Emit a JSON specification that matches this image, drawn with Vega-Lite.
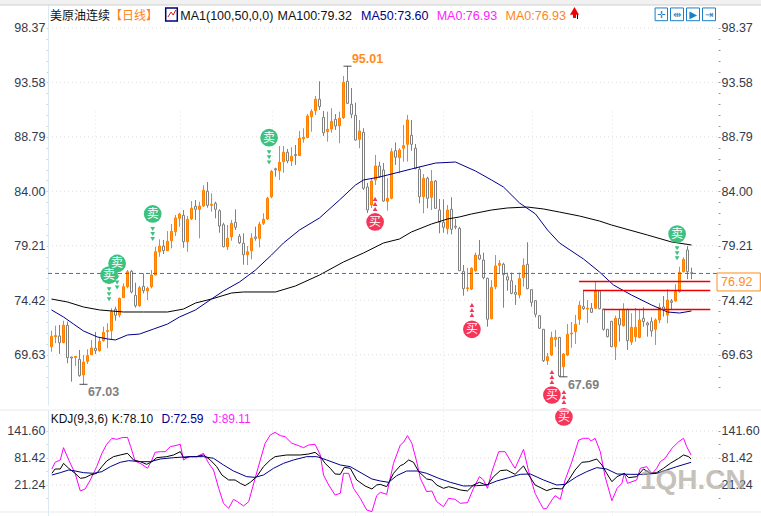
{
"$schema":"https://vega.github.io/schema/vega-lite/v6.json",
"description":"美原油连续 daily candles with MA and KDJ",
"width":761,"height":516,"padding":0,"autosize":{"type":"none"},"background":"white",
"config":{"view":{"stroke":null}},
"datasets":{
"candles":[
{"i":0,"o":70.34,"c":71.25,"h":71.75,"l":69.90},{"i":1,"o":71.21,"c":71.32,"h":72.19,"l":70.64},{"i":2,"o":71.28,"c":70.69,"h":72.25,"l":69.70},{"i":3,"o":70.69,"c":72.22,"h":72.62,"l":70.64},{"i":4,"o":72.22,"c":69.37,"h":72.54,"l":68.88},{"i":5,"o":69.43,"c":69.34,"h":69.46,"l":67.26},{"i":6,"o":69.39,"c":69.48,"h":69.52,"l":68.64},{"i":7,"o":69.23,"c":67.79,"h":70.05,"l":67.70},{"i":8,"o":67.85,"c":68.99,"h":69.61,"l":67.03},{"i":9,"o":69.05,"c":69.55,"h":70.11,"l":68.82},
{"i":10,"o":69.63,"c":70.22,"h":70.93,"l":69.61},{"i":11,"o":70.20,"c":69.99,"h":71.63,"l":69.70},{"i":12,"o":69.99,"c":70.81,"h":71.16,"l":69.90},{"i":13,"o":70.87,"c":71.60,"h":72.10,"l":70.78},{"i":14,"o":71.67,"c":71.76,"h":72.40,"l":70.20},{"i":15,"o":71.75,"c":73.42,"h":73.72,"l":70.93},{"i":16,"o":73.63,"c":73.10,"h":73.86,"l":72.62},{"i":17,"o":73.13,"c":74.59,"h":74.65,"l":72.92},{"i":18,"o":74.65,"c":75.62,"h":75.91,"l":74.65},{"i":19,"o":75.62,"c":76.93,"h":77.08,"l":75.47},
{"i":20,"o":76.97,"c":75.15,"h":77.08,"l":75.03},{"i":21,"o":74.86,"c":73.94,"h":75.97,"l":73.77},{"i":22,"o":73.94,"c":75.53,"h":75.68,"l":73.86},{"i":23,"o":75.65,"c":75.26,"h":76.79,"l":75.03},{"i":24,"o":75.24,"c":75.47,"h":75.62,"l":74.44},{"i":25,"o":75.62,"c":76.64,"h":77.08,"l":75.47},{"i":26,"o":76.64,"c":78.69,"h":79.13,"l":76.64},{"i":27,"o":78.69,"c":79.19,"h":79.78,"l":78.25},{"i":28,"o":79.19,"c":78.78,"h":79.72,"l":78.49},{"i":29,"o":78.78,"c":79.61,"h":80.51,"l":78.78},
{"i":30,"o":79.66,"c":80.49,"h":81.13,"l":78.99},{"i":31,"o":80.45,"c":81.66,"h":81.92,"l":80.07},{"i":32,"o":81.63,"c":82.01,"h":82.12,"l":80.89},{"i":33,"o":81.89,"c":79.57,"h":82.36,"l":79.04},{"i":34,"o":79.57,"c":81.54,"h":81.83,"l":78.69},{"i":35,"o":81.57,"c":82.51,"h":83.15,"l":81.48},{"i":36,"o":82.69,"c":82.42,"h":83.24,"l":81.48},{"i":37,"o":82.42,"c":82.71,"h":83.09,"l":79.87},{"i":38,"o":82.71,"c":84.09,"h":84.53,"l":82.65},{"i":39,"o":84.01,"c":82.77,"h":84.82,"l":82.56},
{"i":40,"o":82.77,"c":82.86,"h":83.83,"l":82.21},{"i":41,"o":82.95,"c":82.42,"h":83.09,"l":81.63},{"i":42,"o":82.30,"c":80.95,"h":82.42,"l":80.36},{"i":43,"o":81.07,"c":79.13,"h":81.24,"l":79.08},{"i":44,"o":79.13,"c":79.87,"h":81.04,"l":78.84},{"i":45,"o":80.01,"c":81.19,"h":81.48,"l":79.66},{"i":46,"o":81.28,"c":80.84,"h":82.42,"l":80.60},{"i":47,"o":80.05,"c":79.48,"h":80.25,"l":79.37},{"i":48,"o":79.43,"c":78.43,"h":80.31,"l":77.55},{"i":49,"o":78.43,"c":78.69,"h":79.19,"l":77.52},
{"i":50,"o":78.78,"c":79.87,"h":80.31,"l":78.02},{"i":51,"o":79.99,"c":79.87,"h":80.89,"l":79.66},{"i":52,"o":79.87,"c":81.10,"h":81.33,"l":79.08},{"i":53,"o":81.19,"c":81.54,"h":82.07,"l":81.04},{"i":54,"o":81.57,"c":83.39,"h":83.53,"l":81.48},{"i":55,"o":83.53,"c":85.76,"h":85.88,"l":83.39},{"i":56,"o":85.99,"c":85.90,"h":86.08,"l":85.29},{"i":57,"o":85.82,"c":86.56,"h":87.99,"l":85.00},{"i":58,"o":86.61,"c":87.44,"h":87.99,"l":85.64},{"i":59,"o":87.44,"c":86.67,"h":87.73,"l":86.47},
{"i":60,"o":86.67,"c":87.08,"h":87.88,"l":86.23},{"i":61,"o":87.24,"c":87.15,"h":88.08,"l":86.32},{"i":62,"o":87.14,"c":88.67,"h":89.31,"l":87.11},{"i":63,"o":88.63,"c":88.75,"h":89.55,"l":88.28},{"i":64,"o":88.72,"c":90.63,"h":90.80,"l":88.72},{"i":65,"o":90.57,"c":91.04,"h":91.22,"l":89.25},{"i":66,"o":91.09,"c":92.10,"h":92.39,"l":90.72},{"i":67,"o":92.10,"c":91.45,"h":93.68,"l":91.16},{"i":68,"o":90.51,"c":89.16,"h":91.07,"l":88.87},{"i":69,"o":89.25,"c":89.46,"h":91.01,"l":88.37},
{"i":70,"o":89.48,"c":90.16,"h":91.31,"l":89.16},{"i":71,"o":90.34,"c":89.75,"h":90.80,"l":89.40},{"i":72,"o":89.77,"c":90.43,"h":91.01,"l":88.23},{"i":73,"o":90.48,"c":93.59,"h":94.15,"l":90.36},{"i":74,"o":93.68,"c":91.74,"h":95.01,"l":91.68},{"i":75,"o":91.66,"c":90.78,"h":93.09,"l":90.43},{"i":76,"o":90.69,"c":88.52,"h":91.80,"l":88.46},{"i":77,"o":88.58,"c":89.31,"h":90.28,"l":87.79},{"i":78,"o":89.19,"c":84.27,"h":89.55,"l":84.12},{"i":79,"o":84.38,"c":82.36,"h":84.74,"l":82.10},
{"i":80,"o":82.80,"c":84.91,"h":85.17,"l":82.54},{"i":81,"o":85.00,"c":86.23,"h":87.20,"l":84.56},{"i":82,"o":86.23,"c":85.29,"h":86.61,"l":85.17},{"i":83,"o":85.88,"c":83.15,"h":86.49,"l":83.09},{"i":84,"o":83.13,"c":83.39,"h":85.17,"l":82.30},{"i":85,"o":83.39,"c":87.49,"h":87.79,"l":83.30},{"i":86,"o":87.58,"c":87.00,"h":88.31,"l":86.32},{"i":87,"o":86.96,"c":87.64,"h":87.79,"l":85.59},{"i":88,"o":87.79,"c":88.02,"h":89.84,"l":86.61},{"i":89,"o":88.14,"c":90.28,"h":90.72,"l":86.61},
{"i":90,"o":88.93,"c":88.14,"h":90.28,"l":87.58},{"i":91,"o":87.79,"c":86.03,"h":88.17,"l":85.94},{"i":92,"o":85.94,"c":83.53,"h":86.17,"l":82.95},{"i":93,"o":83.53,"c":85.15,"h":85.53,"l":82.07},{"i":94,"o":85.15,"c":83.39,"h":85.29,"l":82.51},{"i":95,"o":83.48,"c":84.88,"h":85.88,"l":82.36},{"i":96,"o":84.91,"c":82.51,"h":85.00,"l":82.45},{"i":97,"o":82.36,"c":81.28,"h":83.33,"l":80.31},{"i":98,"o":81.28,"c":80.84,"h":83.30,"l":80.36},{"i":99,"o":80.72,"c":82.36,"h":82.80,"l":80.22},
{"i":100,"o":82.42,"c":80.66,"h":83.48,"l":80.22},{"i":101,"o":80.94,"c":80.85,"h":81.57,"l":80.66},{"i":102,"o":80.75,"c":77.02,"h":80.89,"l":77.00},{"i":103,"o":76.97,"c":75.44,"h":77.52,"l":74.82},{"i":104,"o":75.44,"c":75.52,"h":77.26,"l":75.18},{"i":105,"o":75.41,"c":77.23,"h":77.32,"l":75.32},{"i":106,"o":77.02,"c":78.40,"h":78.61,"l":76.93},{"i":107,"o":78.40,"c":78.05,"h":79.72,"l":77.96},{"i":108,"o":77.96,"c":76.41,"h":78.61,"l":76.27},{"i":109,"o":76.35,"c":72.75,"h":76.41,"l":72.10},
{"i":110,"o":72.80,"c":75.56,"h":76.20,"l":72.75},{"i":111,"o":75.62,"c":77.44,"h":78.40,"l":75.39},{"i":112,"o":77.50,"c":77.67,"h":77.96,"l":76.79},{"i":113,"o":77.59,"c":76.67,"h":77.73,"l":73.77},{"i":114,"o":76.49,"c":76.20,"h":76.85,"l":75.26},{"i":115,"o":76.14,"c":75.03,"h":76.85,"l":74.95},{"i":116,"o":75.12,"c":74.95,"h":75.76,"l":74.01},{"i":117,"o":74.88,"c":76.32,"h":76.85,"l":74.59},{"i":118,"o":76.41,"c":77.50,"h":78.11,"l":75.62},{"i":119,"o":77.59,"c":75.44,"h":79.52,"l":75.39},
{"i":120,"o":75.35,"c":74.24,"h":75.41,"l":73.86},{"i":121,"o":74.38,"c":73.19,"h":74.44,"l":72.92},{"i":122,"o":73.06,"c":71.96,"h":73.13,"l":71.89},{"i":123,"o":71.87,"c":69.11,"h":71.89,"l":68.99},{"i":124,"o":69.11,"c":69.46,"h":69.78,"l":68.73},{"i":125,"o":69.61,"c":71.16,"h":71.66,"l":69.52},{"i":126,"o":70.99,"c":71.16,"h":71.81,"l":70.31},{"i":127,"o":71.16,"c":67.76,"h":71.19,"l":67.67},{"i":128,"o":68.58,"c":69.70,"h":69.78,"l":67.69},{"i":129,"o":69.61,"c":71.43,"h":72.33,"l":69.52},
{"i":130,"o":71.46,"c":71.54,"h":72.51,"l":70.25},{"i":131,"o":71.66,"c":72.31,"h":73.13,"l":70.58},{"i":132,"o":72.75,"c":73.98,"h":74.36,"l":72.25},{"i":133,"o":73.86,"c":73.68,"h":75.32,"l":73.57},{"i":134,"o":73.65,"c":73.74,"h":74.44,"l":72.42},{"i":135,"o":73.72,"c":73.36,"h":74.18,"l":73.30},{"i":136,"o":73.72,"c":75.24,"h":76.05,"l":73.65},{"i":137,"o":75.26,"c":73.68,"h":75.32,"l":73.63},{"i":138,"o":73.65,"c":71.87,"h":73.68,"l":71.75},{"i":139,"o":71.87,"c":71.22,"h":71.89,"l":71.16},
{"i":140,"o":72.57,"c":70.34,"h":72.60,"l":70.29},{"i":141,"o":70.34,"c":72.83,"h":73.07,"l":69.17},{"i":142,"o":72.83,"c":72.25,"h":73.57,"l":70.78},{"i":143,"o":72.19,"c":73.63,"h":74.16,"l":72.10},{"i":144,"o":73.63,"c":70.87,"h":73.68,"l":70.05},{"i":145,"o":70.75,"c":72.04,"h":73.28,"l":70.49},{"i":146,"o":71.22,"c":72.04,"h":73.74,"l":70.78},{"i":147,"o":71.16,"c":72.69,"h":73.63,"l":71.08},{"i":148,"o":72.83,"c":72.54,"h":73.80,"l":72.10},{"i":149,"o":72.42,"c":72.25,"h":72.54,"l":71.22},
{"i":150,"o":72.54,"c":71.72,"h":72.92,"l":71.22},{"i":151,"o":71.87,"c":72.69,"h":72.83,"l":70.49},{"i":152,"o":72.69,"c":73.80,"h":74.16,"l":72.40},{"i":153,"o":73.83,"c":73.57,"h":74.80,"l":72.98},{"i":154,"o":73.13,"c":74.44,"h":75.39,"l":72.40},{"i":155,"o":74.36,"c":74.24,"h":74.53,"l":73.57},{"i":156,"o":74.36,"c":75.18,"h":75.83,"l":74.30},{"i":157,"o":75.18,"c":76.88,"h":77.37,"l":75.09},{"i":158,"o":76.93,"c":78.02,"h":78.20,"l":76.88},{"i":159,"o":78.84,"c":76.93,"h":79.19,"l":76.27},
{"i":160,"o":76.85,"c":76.80,"h":77.29,"l":76.27}],
"ma100":[{"i":0,"p":74.53},{"i":4,"p":74.27},{"i":8,"p":73.83},{"i":12,"p":73.57},{"i":18,"p":73.39},{"i":23,"p":73.39},{"i":29,"p":73.39},{"i":33,"p":73.65},{"i":36,"p":74.18},{"i":40,"p":74.53},{"i":45,"p":75.06},{"i":48,"p":75.15},{"i":56,"p":75.15},{"i":61,"p":75.68},{"i":67,"p":76.64},{"i":73,"p":77.79},{"i":78,"p":78.58},{"i":83,"p":79.46},{"i":87,"p":79.81},{"i":90,"p":80.43},{"i":95,"p":81.13},{"i":99,"p":81.57},{"i":102,"p":81.75},{"i":105,"p":82.01},{"i":110,"p":82.36},{"i":114,"p":82.54},{"i":119,"p":82.62},{"i":123,"p":82.45},{"i":127,"p":82.18},{"i":132,"p":81.83},{"i":137,"p":81.39},{"i":140,"p":81.04},{"i":149,"p":80.16},{"i":155,"p":79.55},{"i":160,"p":79.28}],
"ma50":[{"i":0,"p":73.57},{"i":3,"p":72.95},{"i":5.5,"p":72.33},{"i":8,"p":71.72},{"i":11.5,"p":71.19},{"i":14,"p":71.02},{"i":16,"p":70.93},{"i":19,"p":71.37},{"i":22,"p":71.45},{"i":25.5,"p":71.89},{"i":29,"p":72.33},{"i":32,"p":72.95},{"i":36,"p":73.57},{"i":40,"p":74.53},{"i":43,"p":75.24},{"i":47,"p":76.03},{"i":51,"p":77.08},{"i":55,"p":78.40},{"i":58,"p":79.46},{"i":62,"p":80.60},{"i":67,"p":81.66},{"i":72,"p":83.24},{"i":76,"p":84.56},{"i":78,"p":85.00},{"i":82,"p":85.26},{"i":87,"p":85.70},{"i":90,"p":85.97},{"i":96,"p":86.49},{"i":101,"p":86.58},{"i":106,"p":85.79},{"i":110,"p":85.00},{"i":113,"p":84.38},{"i":117,"p":82.98},{"i":121,"p":82.01},{"i":124,"p":80.60},{"i":127,"p":79.46},{"i":133,"p":78.05},{"i":137,"p":76.91},{"i":140.5,"p":75.76},{"i":145,"p":74.88},{"i":150,"p":74.01},{"i":154,"p":73.39},{"i":157,"p":73.30},{"i":160,"p":73.48}],
"kdjK":[{"i":0.1,"v":47.2},{"i":0.9,"v":56.9},{"i":2.2,"v":56.9},{"i":3,"v":69.5},{"i":4.3,"v":58.4},{"i":5.9,"v":47.2},{"i":7.2,"v":36.1},{"i":8.4,"v":37.6},{"i":9.7,"v":43.5},{"i":11.3,"v":47.2},{"i":12.6,"v":62.1},{"i":13.8,"v":74.7},{"i":15.5,"v":84.4},{"i":17.2,"v":88.1},{"i":19,"v":91.8},{"i":20.5,"v":77.0},{"i":22.2,"v":73.2},{"i":23.8,"v":67.3},{"i":25.1,"v":73.2},{"i":26.3,"v":82.1},{"i":28.8,"v":84.4},{"i":30.5,"v":88.1},{"i":32.2,"v":95.5},{"i":33,"v":82.1},{"i":34.7,"v":84.4},{"i":36.3,"v":84.4},{"i":38,"v":88.1},{"i":39.7,"v":77.0},{"i":41.3,"v":62.1},{"i":42.6,"v":43.5},{"i":44.3,"v":32.4},{"i":45.9,"v":32.4},{"i":47.2,"v":24.9},{"i":48.4,"v":19.8},{"i":49.7,"v":27.2},{"i":51.3,"v":39.8},{"i":53,"v":62.1},{"i":54.7,"v":77.0},{"i":55.9,"v":84.4},{"i":58.8,"v":88.1},{"i":62.2,"v":88.1},{"i":64.3,"v":90.3},{"i":65.9,"v":94.0},{"i":67.2,"v":84.4},{"i":68.4,"v":69.5},{"i":69.7,"v":58.4},{"i":70.9,"v":45.7},{"i":72.2,"v":45.0},{"i":73.2,"v":60.6},{"i":74.7,"v":58.4},{"i":76.3,"v":32.4},{"i":78.4,"v":19.0},{"i":80.1,"v":12.3},{"i":81.3,"v":21.2},{"i":82.2,"v":22.7},{"i":83.8,"v":17.5},{"i":85.5,"v":47.2},{"i":87.2,"v":64.3},{"i":88,"v":67.3},{"i":89.3,"v":77.0},{"i":90.5,"v":71.8},{"i":91.8,"v":51.0},{"i":93.8,"v":34.6},{"i":95.1,"v":32.4},{"i":96.3,"v":21.2},{"i":98,"v":13.8},{"i":99.3,"v":17.5},{"i":100.9,"v":13.8},{"i":102.2,"v":10.1},{"i":104,"v":7.9},{"i":105.5,"v":21.2},{"i":107,"v":27.2},{"i":108,"v":23.5},{"i":109,"v":21.2},{"i":110.5,"v":39.8},{"i":112.2,"v":53.2},{"i":113.8,"v":54.7},{"i":115.9,"v":45.0},{"i":118,"v":63.6},{"i":119.3,"v":43.5},{"i":120.9,"v":21.2},{"i":122.6,"v":13.8},{"i":123.8,"v":8.6},{"i":125.5,"v":13.8},{"i":127.6,"v":12.3},{"i":129.3,"v":32.4},{"i":130.9,"v":54.7},{"i":132.6,"v":71.8},{"i":134.3,"v":73.2},{"i":136.3,"v":79.2},{"i":137.6,"v":65.8},{"i":138.8,"v":47.2},{"i":140.1,"v":28.7},{"i":141.4,"v":39.8},{"i":143.2,"v":47.2},{"i":144.3,"v":37.6},{"i":146.3,"v":39.8},{"i":148,"v":56.9},{"i":149.7,"v":47.2},{"i":151.3,"v":48.7},{"i":153,"v":58.4},{"i":154.7,"v":69.5},{"i":156.8,"v":80.7},{"i":158,"v":88.1},{"i":159.3,"v":84.4},{"i":159.9,"v":79.2}],
"kdjD":[{"i":0.1,"v":43.5},{"i":2.2,"v":48.7},{"i":4.3,"v":54.7},{"i":5.9,"v":52.4},{"i":8,"v":48.7},{"i":10.5,"v":47.2},{"i":12.6,"v":51.0},{"i":14.7,"v":62.1},{"i":17.2,"v":71.8},{"i":19.3,"v":75.5},{"i":22.2,"v":73.2},{"i":24.7,"v":73.2},{"i":27.2,"v":79.2},{"i":30.5,"v":82.1},{"i":34.7,"v":84.4},{"i":38,"v":84.4},{"i":40.5,"v":80.7},{"i":43,"v":65.8},{"i":45.5,"v":52.4},{"i":48.8,"v":39.8},{"i":50.9,"v":38.3},{"i":53,"v":43.5},{"i":55.5,"v":58.4},{"i":58,"v":69.5},{"i":60.5,"v":77.0},{"i":63.8,"v":84.4},{"i":66.3,"v":84.4},{"i":68.8,"v":77.0},{"i":72.2,"v":65.8},{"i":74.7,"v":62.1},{"i":77.6,"v":47.2},{"i":80.1,"v":34.6},{"i":82.2,"v":30.1},{"i":84.3,"v":27.2},{"i":86.3,"v":42.0},{"i":88.8,"v":52.4},{"i":91.4,"v":52.4},{"i":93.8,"v":47.2},{"i":96.8,"v":36.1},{"i":99.7,"v":27.2},{"i":103,"v":19.0},{"i":106.3,"v":19.7},{"i":108.8,"v":21.2},{"i":111.3,"v":30.1},{"i":114.3,"v":37.6},{"i":117.2,"v":45.0},{"i":119.7,"v":45.7},{"i":123,"v":32.4},{"i":126.3,"v":21.2},{"i":128.4,"v":22.7},{"i":131.3,"v":39.8},{"i":133.8,"v":51.0},{"i":136.3,"v":59.9},{"i":138.8,"v":56.9},{"i":141.4,"v":45.7},{"i":144.7,"v":45.0},{"i":148,"v":45.0},{"i":151.3,"v":47.2},{"i":153.8,"v":54.7},{"i":156.3,"v":62.1},{"i":159.9,"v":71.8}],
"kdjJ":[{"i":0.1,"v":56.9},{"i":0.9,"v":71.8},{"i":2.2,"v":77.0},{"i":3,"v":104.4},{"i":4.3,"v":77.0},{"i":5.9,"v":47.2},{"i":7.2,"v":7.9},{"i":8.4,"v":12.3},{"i":9.7,"v":32.4},{"i":11.3,"v":62.1},{"i":12.6,"v":91.8},{"i":13.8,"v":111.9},{"i":15.1,"v":125.3},{"i":16.3,"v":123.0},{"i":17.6,"v":126.7},{"i":19,"v":127.5},{"i":19.8,"v":106.7},{"i":20.9,"v":74.7},{"i":22.6,"v":67.3},{"i":24,"v":58.4},{"i":25.1,"v":77.0},{"i":25.9,"v":94.0},{"i":27.2,"v":95.5},{"i":28.4,"v":95.5},{"i":29.7,"v":106.7},{"i":30.9,"v":108.9},{"i":32.2,"v":111.9},{"i":33,"v":77.0},{"i":34.3,"v":84.4},{"i":36.3,"v":84.4},{"i":38,"v":91.8},{"i":39.3,"v":69.5},{"i":40.5,"v":54.7},{"i":41.8,"v":13.8},{"i":43,"v":-19.6},{"i":44.3,"v":-30.8},{"i":45.5,"v":-10.7},{"i":46.5,"v":-15.9},{"i":48,"v":-25.6},{"i":49.3,"v":-15.9},{"i":50.9,"v":36.1},{"i":52.2,"v":77.0},{"i":53.4,"v":114.1},{"i":54.7,"v":132.7},{"i":55.9,"v":138.6},{"i":57.2,"v":131.2},{"i":58.4,"v":129.0},{"i":60.1,"v":114.1},{"i":61.8,"v":108.9},{"i":63,"v":104.4},{"i":64.3,"v":110.4},{"i":65.9,"v":111.9},{"i":67.2,"v":88.1},{"i":68,"v":43.5},{"i":69.3,"v":21.2},{"i":70.9,"v":-1.1},{"i":72.2,"v":2.7},{"i":73,"v":47.2},{"i":74.3,"v":47.2},{"i":75.5,"v":13.8},{"i":77.2,"v":-8.5},{"i":78.8,"v":-34.5},{"i":80.1,"v":-38.2},{"i":81.3,"v":-2.5},{"i":82.2,"v":4.9},{"i":83.8,"v":0.4},{"i":85.5,"v":69.5},{"i":87.2,"v":110.4},{"i":88,"v":116.3},{"i":89,"v":131.2},{"i":90.1,"v":114.1},{"i":91.4,"v":69.5},{"i":92.2,"v":36.1},{"i":93.8,"v":6.4},{"i":95.1,"v":7.9},{"i":96.3,"v":-15.9},{"i":98,"v":-27.1},{"i":99.3,"v":-8.5},{"i":100.9,"v":-10.7},{"i":102.2,"v":-19.6},{"i":104,"v":-18.1},{"i":105.5,"v":13.8},{"i":107,"v":39.8},{"i":108,"v":32.4},{"i":109,"v":13.8},{"i":110.1,"v":51.0},{"i":111.8,"v":95.5},{"i":113.4,"v":95.5},{"i":115.1,"v":69.5},{"i":115.9,"v":58.4},{"i":118,"v":100.7},{"i":119.3,"v":51.0},{"i":120.9,"v":2.7},{"i":122.2,"v":-19.6},{"i":123,"v":-32.3},{"i":123.8,"v":-30.8},{"i":125.1,"v":-12.2},{"i":125.9,"v":-2.5},{"i":127.2,"v":-10.7},{"i":128.4,"v":32.4},{"i":130.1,"v":73.2},{"i":131.8,"v":121.5},{"i":133,"v":125.3},{"i":134.3,"v":125.3},{"i":134.9,"v":119.3},{"i":135.9,"v":125.3},{"i":137.2,"v":95.5},{"i":138.4,"v":39.8},{"i":140.1,"v":-13.7},{"i":141.4,"v":13.8},{"i":142.6,"v":24.9},{"i":143.2,"v":47.2},{"i":144,"v":24.9},{"i":146.3,"v":32.4},{"i":147.2,"v":58.4},{"i":148.8,"v":62.1},{"i":150.1,"v":45.7},{"i":151.3,"v":58.4},{"i":152.2,"v":73.2},{"i":153.4,"v":80.7},{"i":155.1,"v":103.0},{"i":156.8,"v":117.8},{"i":158,"v":125.3},{"i":158.8,"v":106.7},{"i":159.9,"v":88.1}],
"priceGrid":[{"p":98.37,"i":-0.875,"i2":166.625},{"p":93.58,"i":-0.875,"i2":166.625},{"p":88.79,"i":-0.875,"i2":166.625},{"p":84.00,"i":-0.875,"i2":166.625},{"p":79.21,"i":-0.875,"i2":166.625},{"p":74.42,"i":-0.875,"i2":166.625},{"p":69.63,"i":-0.875,"i2":166.625}],
"kdjGrid":[{"v":141.6,"i":-0.875,"i2":166.625},{"v":81.42,"i":-0.875,"i2":166.625},{"v":21.24,"i":-0.875,"i2":166.625}],
"dividers":[{"v":188.4,"i":-12.875,"i2":177.375},{"v":-38.95,"i":-12.875,"i2":177.375}],
"tabs":[{"i":-12.875,"i2":177.375,"p":100.83,"p2":100.39}],
"tabEdges":[{"i":-5.6},{"i":12.1},{"i":25.9},{"i":40.6},{"i":52.6},{"i":64.1},{"i":75.9},{"i":89.1},{"i":103.9},{"i":110.9},{"i":117.9},{"i":125.1},{"i":131.9},{"i":139.1},{"i":145.9},{"i":152.9},{"i":160.1},{"i":167.1},{"i":174.1}],
"lastPrice":[{"i":-0.875,"i2":166.5,"p":76.78}],
"levels":[{"i":131.9,"i2":164.7,"p":76.07},{"i":132.9,"i2":164.7,"p":75.28},{"i":138,"i2":164.7,"p":73.61}],
"extremes":[{"i":74,"p":95.01},{"i":8,"p":67.03},{"i":128,"p":67.69}],
"extremeLabels":[{"label":"95.01","i":75.1,"p":95.64},{"label":"67.03","i":9.1,"p":66.35},{"label":"67.69","i":129.1,"p":66.97}],
"signals":[{"kind":"卖","i":25.3,"p":82.01},{"kind":"卖","i":16.4,"p":77.66},{"kind":"卖","i":14.4,"p":76.64},{"kind":"卖","i":54.4,"p":88.72},{"kind":"卖","i":156.4,"p":80.25},{"kind":"买","i":80.9,"p":81.31},{"kind":"买","i":105.1,"p":71.87},{"kind":"买","i":125.1,"p":66.09},{"kind":"买","i":128.1,"p":64.16}],
"arrows":[{"kind":"卖","i":25.3,"p":80.69},{"kind":"卖","i":25.3,"p":80.25},{"kind":"卖","i":25.3,"p":79.81},{"kind":"卖","i":16.4,"p":76.42},{"kind":"卖","i":16.4,"p":75.98},{"kind":"卖","i":16.4,"p":75.54},{"kind":"卖","i":14.4,"p":75.39},{"kind":"卖","i":14.4,"p":74.95},{"kind":"卖","i":14.4,"p":74.51},{"kind":"卖","i":54.4,"p":87.44},{"kind":"卖","i":54.4,"p":87.0},{"kind":"卖","i":54.4,"p":86.53},{"kind":"卖","i":156.4,"p":79.0},{"kind":"卖","i":156.4,"p":78.55},{"kind":"卖","i":156.4,"p":78.11},{"kind":"买","i":80.9,"p":83.33},{"kind":"买","i":80.9,"p":82.89},{"kind":"买","i":80.9,"p":82.45},{"kind":"买","i":105.1,"p":74.01},{"kind":"买","i":105.1,"p":73.57},{"kind":"买","i":105.1,"p":73.13},{"kind":"买","i":125.1,"p":68.11},{"kind":"买","i":125.1,"p":67.67},{"kind":"买","i":125.1,"p":67.23},{"kind":"买","i":128.1,"p":66.35},{"kind":"买","i":128.1,"p":65.91},{"kind":"买","i":128.1,"p":65.47}],
"headerCjk":[{"text":"美原油连续","series":"title","i":-0.4,"p":99.42},{"text":"【日线】","series":"period","i":14.6,"p":99.42}],
"header":[{"text":"MA1(100,50,0,0)","series":"title","i":32.2,"p":99.42},{"text":"MA100:79.32","series":"title","i":56.5,"p":99.42},{"text":"MA50:73.60","series":"navy","i":77.4,"p":99.42},{"text":"MA0:76.93","series":"magenta","i":96.3,"p":99.42},{"text":"MA0:76.93","series":"period","i":113.5,"p":99.42}],
"kdjHeader":[{"text":"KDJ(9,3,6)","series":"title","i":-0.2,"v":168.3},{"text":"K:78.10","series":"title","i":15.05,"v":168.3},{"text":"D:72.59","series":"navy","i":27.5,"v":168.3},{"text":"J:89.11","series":"magenta","i":40.2,"v":168.3}],
"maIcon":[{"i":28.55,"i2":31.45,"p":100.13,"p2":98.98}],
"maIconLine":[{"i":29.1,"p":99.33},{"i":29.9,"p":99.77},{"i":30.4,"p":99.51},{"i":31.1,"p":99.95}],
"arrowHead":[{"i":130.75,"p":99.88}],
"arrowStem":[{"i":130.75,"p":99.69,"p2":99.25}],
"arrowShadow":[{"i":131.5,"p":99.6,"p2":99.16}],
"buttons":[{"i":150.9,"i2":154,"p":100.13,"p2":99.01},{"i":154.75,"i2":158,"p":100.13,"p2":99.01},{"i":158.75,"i2":162,"p":100.13,"p2":99.01},{"i":162.75,"i2":166,"p":100.13,"p2":99.01}],
"buttonGlyphs":[{"g":"✛","i":152.45,"p":99.55},{"g":"⇹","i":156.4,"p":99.55},{"g":"▶","i":160.4,"p":99.55},{"g":"⇥","i":164.4,"p":99.55}],
"priceBox":[{"i":166.375,"i2":177.2,"p":76.82,"p2":75.24}],
"priceBoxLabel":[{"label":"76.92","i":167.4,"p":76.03}],
"watermark":[{"label":"1QH.CN","i":147.1,"v":30.2}]
},
"encoding":{"x":{"field":"i","type":"quantitative","title":null,"scale":{"domain":[-12.875,177.375],"nice":false,"zero":false,"padding":0},"axis":{"values":[10.9,32.1,55.1,75.9,97.9,120.1,140.1],"labels":false,"ticks":false,"domain":false,"title":null,"grid":true,"gridColor":"#e6e6e6","gridDash":[1,3]}}},
"layer":[
{"encoding":{"y":{"field":"p","type":"quantitative","title":null,"scale":{"domain":[65.21,100.83],"range":[405,0],"nice":false,"zero":false},"axis":null}},
"resolve":{"axis":{"y":"independent"}},
"layer":[
{"data":{"name":"priceGrid"},"mark":{"type":"rule","color":"#e6e6e6","strokeDash":[1,3]},"encoding":{"x2":{"field":"i2"},"y":{"field":"p","type":"quantitative","title":null,"scale":{"domain":[65.21,100.83],"range":[405,0],"nice":false,"zero":false},"axis":{"orient":"left","offset":-48,"title":null,"grid":false,"values":[98.37,97.41,96.45,95.49,94.54,93.58,92.62,91.66,90.71,89.75,88.79,87.83,86.87,85.92,84.96,84.00,83.04,82.08,81.13,80.17,79.21,78.25,77.29,76.34,75.38,74.42,73.46,72.50,71.55,70.59,69.63,68.67,67.71,66.75],"labelExpr":"indexof([98.37,93.58,88.79,84,79.21,74.42,69.63],datum.value)>=0?format(datum.value,'.2f'):''","domainColor":"#dbe9f2","tickColor":"#c9d6df","tickSize":2,"labelFont":"Liberation Sans","labelFontSize":12.5,"labelColor":"#343b4c","labelPadding":1}}}},
{"data":{"name":"priceGrid"},"mark":{"type":"rule","color":"#e6e6e6","strokeDash":[1,3]},"encoding":{"x2":{"field":"i2"},"y":{"field":"p","type":"quantitative","title":null,"scale":{"domain":[65.21,100.83],"range":[405,0],"nice":false,"zero":false},"axis":{"orient":"right","offset":-43,"title":null,"grid":false,"domain":false,"values":[98.37,97.41,96.45,95.49,94.54,93.58,92.62,91.66,90.71,89.75,88.79,87.83,86.87,85.92,84.96,84.00,83.04,82.08,81.13,80.17,79.21,78.25,77.29,76.34,75.38,74.42,73.46,72.50,71.55,70.59,69.63,68.67,67.71,66.75],"labelExpr":"indexof([98.37,93.58,88.79,84,79.21,74.42,69.63],datum.value)>=0?format(datum.value,'.2f'):''","tickColor":"#9a9a9a","tickSize":2,"labelFont":"Liberation Sans","labelFontSize":12.5,"labelColor":"#343b4c","labelPadding":1}}}},
{"data":{"name":"tabs"},"mark":{"type":"rect","color":"#f1f1f1"},"encoding":{"x2":{"field":"i2"},"y2":{"field":"p2"}}},
{"data":{"name":"tabs"},"mark":{"type":"rule","color":"#cfcfcf"},"encoding":{"x2":{"field":"i2"},"y":{"field":"p2","type":"quantitative","title":null,"scale":{"domain":[65.21,100.83],"range":[405,0],"nice":false,"zero":false},"axis":null}}},
{"data":{"name":"tabEdges"},"mark":{"type":"rule","color":"#d8d8d8"},"encoding":{"y":{"datum":100.83,"type":"quantitative","title":null,"scale":{"domain":[65.21,100.83],"range":[405,0],"nice":false,"zero":false},"axis":null},"y2":{"datum":100.39}}},
{"data":{"name":"candles"},"mark":{"type":"rule","strokeWidth":1},"encoding":{"y":{"field":"h","type":"quantitative","title":null,"scale":{"domain":[65.21,100.83],"range":[405,0],"nice":false,"zero":false},"axis":null},"y2":{"field":"l"},"color":{"condition":{"test":"datum.c>=datum.o","value":"#ff8000"},"value":"#808080"}}},
{"data":{"name":"candles"},"mark":{"type":"bar","orient":"vertical","size":2,"strokeWidth":1},"encoding":{"y":{"field":"o","type":"quantitative","title":null,"scale":{"domain":[65.21,100.83],"range":[405,0],"nice":false,"zero":false},"axis":null},"y2":{"field":"c"},"stroke":{"condition":{"test":"datum.c>=datum.o","value":"#ff8000"},"value":"#808080"},"fill":{"condition":{"test":"datum.c>=datum.o","value":"#ff9a28"},"value":"#ffffff"}}},
{"data":{"name":"extremes"},"mark":{"type":"tick","orient":"horizontal","size":8,"thickness":1,"color":"#000000"}},
{"data":{"name":"ma100"},"mark":{"type":"line","color":"#000000","strokeWidth":1}},
{"data":{"name":"ma50"},"mark":{"type":"line","color":"#00008b","strokeWidth":1}},
{"data":{"name":"lastPrice"},"mark":{"type":"rule","color":"#1e78d8","strokeWidth":1,"strokeDash":[4,3]},"encoding":{"x2":{"field":"i2"}}},
{"data":{"name":"levels"},"mark":{"type":"rule","color":"#ee0000","strokeWidth":1.3},"encoding":{"x2":{"field":"i2"}}},
{"data":{"name":"arrows"},"mark":{"type":"point","filled":true,"size":22,"opacity":1},"encoding":{"color":{"condition":{"test":"datum.kind==='卖'","value":"#3cc17f"},"value":"#f5355a"},"shape":{"condition":{"test":"datum.kind==='卖'","value":"triangle-down"},"value":"triangle-up"}}},
{"data":{"name":"signals"},"mark":{"type":"point","filled":true,"size":314,"shape":"circle","opacity":1},"encoding":{"color":{"condition":{"test":"datum.kind==='卖'","value":"#3cc17f"},"value":"#f5355a"}}},
{"data":{"name":"signals"},"mark":{"type":"text","font":"Noto Sans CJK SC","fontSize":12,"color":"#ffffff","align":"center","baseline":"middle"},"encoding":{"text":{"field":"kind"}}},
{"data":{"name":"extremeLabels"},"mark":{"type":"text","font":"Liberation Sans","fontSize":12.5,"fontWeight":"bold","align":"left","baseline":"middle"},"encoding":{"text":{"field":"label"},"color":{"condition":{"test":"datum.label==='95.01'","value":"#ff8c1a"},"value":"#808080"}}},
{"data":{"name":"headerCjk"},"mark":{"type":"text","font":"Noto Sans CJK SC","fontSize":12,"align":"left","baseline":"middle"},"encoding":{"text":{"field":"text"},"color":{"field":"series","type":"nominal","legend":null,"scale":{"domain":["title","period","navy","magenta"],"range":["#111111","#ff8418","#00008b","#ff22ff"]}}}},
{"data":{"name":"header"},"mark":{"type":"text","font":"Liberation Sans","fontSize":12.5,"align":"left","baseline":"middle"},"encoding":{"text":{"field":"text"},"color":{"field":"series","type":"nominal","legend":null,"scale":{"domain":["title","period","navy","magenta"],"range":["#111111","#ff8418","#00008b","#ff22ff"]}}}},
{"data":{"name":"maIcon"},"mark":{"type":"rect","fill":"#ffffff","stroke":"#00007a","strokeWidth":1.5},"encoding":{"x2":{"field":"i2"},"y2":{"field":"p2"}}},
{"data":{"name":"maIconLine"},"mark":{"type":"line","color":"#e01010","strokeWidth":1}},
{"data":{"name":"arrowShadow"},"mark":{"type":"rule","color":"#000000","strokeWidth":1},"encoding":{"y2":{"field":"p2"}}},
{"data":{"name":"arrowStem"},"mark":{"type":"rule","color":"#f00000","strokeWidth":3},"encoding":{"y2":{"field":"p2"}}},
{"data":{"name":"arrowHead"},"mark":{"type":"point","shape":"triangle-up","filled":true,"size":80,"color":"#f00000","opacity":1}},
{"data":{"name":"buttons"},"mark":{"type":"rect","fill":"#ffffff","stroke":"#1a7fc8","strokeWidth":1},"encoding":{"x2":{"field":"i2"},"y2":{"field":"p2"}}},
{"data":{"name":"buttonGlyphs"},"mark":{"type":"text","font":"DejaVu Sans","fontSize":10,"color":"#1a7fc8","align":"center","baseline":"middle"},"encoding":{"text":{"field":"g"}}},
{"data":{"name":"priceBox"},"mark":{"type":"rect","fill":"#ffffff","stroke":"#ff8c1a","strokeWidth":1},"encoding":{"x2":{"field":"i2"},"y2":{"field":"p2"}}},
{"data":{"name":"priceBoxLabel"},"mark":{"type":"text","font":"Liberation Sans","fontSize":12.5,"color":"#ff8c1a","align":"left","baseline":"middle"},"encoding":{"text":{"field":"label"}}}
]},
{"encoding":{"y":{"field":"v","type":"quantitative","title":null,"scale":{"domain":[-47.9,188.4],"range":[516,410],"nice":false,"zero":false},"axis":null}},
"resolve":{"axis":{"y":"independent"}},
"layer":[
{"data":{"name":"kdjGrid"},"mark":{"type":"rule","color":"#e6e6e6","strokeDash":[1,3]},"encoding":{"x2":{"field":"i2"},"y":{"field":"v","type":"quantitative","title":null,"scale":{"domain":[-47.9,188.4],"range":[516,410],"nice":false,"zero":false},"axis":{"orient":"left","offset":-48,"title":null,"grid":false,"values":[141.6,111.51,81.42,51.33,21.24,-8.85],"labelExpr":"indexof([141.6,81.42,21.24],datum.value)>=0?format(datum.value,'.2f'):''","domainColor":"#dbe9f2","tickColor":"#c9d6df","tickSize":2,"labelFont":"Liberation Sans","labelFontSize":12.5,"labelColor":"#343b4c","labelPadding":1}}}},
{"data":{"name":"kdjGrid"},"mark":{"type":"rule","color":"#e6e6e6","strokeDash":[1,3]},"encoding":{"x2":{"field":"i2"},"y":{"field":"v","type":"quantitative","title":null,"scale":{"domain":[-47.9,188.4],"range":[516,410],"nice":false,"zero":false},"axis":{"orient":"right","offset":-43,"title":null,"grid":false,"domain":false,"values":[141.6,111.51,81.42,51.33,21.24,-8.85],"labelExpr":"indexof([141.6,81.42,21.24],datum.value)>=0?format(datum.value,'.2f'):''","tickColor":"#9a9a9a","tickSize":2,"labelFont":"Liberation Sans","labelFontSize":12.5,"labelColor":"#343b4c","labelPadding":1}}}},
{"data":{"name":"dividers"},"mark":{"type":"rule","color":"#e4ecf0"},"encoding":{"x2":{"field":"i2"}}},
{"data":{"name":"kdjJ"},"mark":{"type":"line","color":"#ff00ff","strokeWidth":1}},
{"data":{"name":"kdjK"},"mark":{"type":"line","color":"#000000","strokeWidth":1}},
{"data":{"name":"kdjD"},"mark":{"type":"line","color":"#00008b","strokeWidth":1}},
{"data":{"name":"kdjHeader"},"mark":{"type":"text","font":"Liberation Sans","fontSize":12,"align":"left","baseline":"middle"},"encoding":{"text":{"field":"text"},"color":{"field":"series","type":"nominal","legend":null,"scale":{"domain":["title","period","navy","magenta"],"range":["#111111","#ff8418","#00008b","#ff22ff"]}}}},
{"data":{"name":"watermark"},"mark":{"type":"text","font":"Liberation Sans","fontSize":28,"fontWeight":"bold","color":"#a8a298","opacity":0.65,"align":"left","baseline":"middle"},"encoding":{"text":{"field":"label"}}}
]}
],
"resolve":{"scale":{"y":"independent"}}
}
